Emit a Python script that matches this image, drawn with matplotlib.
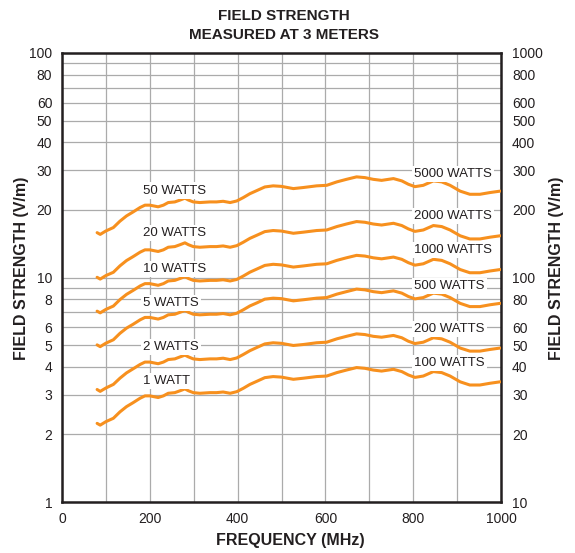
import matplotlib
matplotlib.use("Agg")
import matplotlib.pyplot as plt
from matplotlib.ticker import FixedLocator, FixedFormatter, NullFormatter

plt.rcParams['font.family'] = ['Liberation Sans', 'DejaVu Sans']

# frequency (MHz)
freq = [80, 87, 100, 117, 132, 147, 162, 178, 189, 200, 219, 231, 242, 257, 269,
        280, 288, 299, 314, 337, 352, 367, 383, 398, 413, 428, 444, 462, 481, 500,
        527, 550, 580, 603, 626, 648, 671, 690, 709, 728, 755, 774, 789, 804, 823,
        846, 865, 884, 907, 929, 952, 975, 998]

# field strength (V/m, left scale) of each curve
curve_1w = [2.24, 2.20, 2.28, 2.36, 2.52, 2.66, 2.77, 2.90, 2.97, 2.97, 2.92, 2.97, 3.05, 3.07, 3.13,
            3.19, 3.13, 3.07, 3.05, 3.07, 3.07, 3.09, 3.05, 3.10, 3.21, 3.34, 3.45, 3.58, 3.62, 3.60,
            3.52, 3.56, 3.62, 3.64, 3.77, 3.87, 3.97, 3.94, 3.87, 3.83, 3.90, 3.81, 3.68, 3.59, 3.64,
            3.81, 3.77, 3.64, 3.43, 3.32, 3.32, 3.38, 3.43]
curve_2w = [3.17, 3.11, 3.22, 3.34, 3.56, 3.76, 3.92, 4.10, 4.20, 4.20, 4.13, 4.20, 4.31, 4.34, 4.43,
            4.51, 4.43, 4.34, 4.31, 4.34, 4.34, 4.37, 4.31, 4.38, 4.54, 4.72, 4.88, 5.06, 5.12, 5.09,
            4.98, 5.03, 5.12, 5.15, 5.33, 5.47, 5.61, 5.57, 5.47, 5.42, 5.52, 5.39, 5.20, 5.08, 5.15,
            5.39, 5.33, 5.15, 4.85, 4.70, 4.70, 4.78, 4.85]
curve_5w = [5.01, 4.92, 5.10, 5.28, 5.64, 5.95, 6.19, 6.48, 6.64, 6.64, 6.53, 6.64, 6.82, 6.86, 7.00,
            7.13, 7.00, 6.86, 6.82, 6.86, 6.86, 6.91, 6.82, 6.93, 7.18, 7.47, 7.71, 8.01, 8.09, 8.05,
            7.87, 7.96, 8.09, 8.14, 8.43, 8.65, 8.88, 8.81, 8.65, 8.56, 8.72, 8.52, 8.23, 8.03, 8.14,
            8.52, 8.43, 8.14, 7.67, 7.42, 7.42, 7.56, 7.67]
curve_10w = [7.08, 6.96, 7.21, 7.46, 7.97, 8.41, 8.76, 9.17, 9.39, 9.39, 9.23, 9.39, 9.65, 9.71, 9.90,
             10.09, 9.90, 9.71, 9.65, 9.71, 9.71, 9.77, 9.65, 9.80, 10.15, 10.56, 10.91, 11.32, 11.45, 11.38,
             11.13, 11.26, 11.45, 11.51, 11.92, 12.24, 12.55, 12.46, 12.24, 12.11, 12.33, 12.05, 11.64, 11.35, 11.51,
             12.05, 11.92, 11.51, 10.85, 10.50, 10.50, 10.69, 10.85]
curve_20w = [10.02, 9.84, 10.20, 10.55, 11.27, 11.90, 12.39, 12.97, 13.28, 13.28, 13.06, 13.28, 13.64, 13.73, 14.00,
             14.27, 14.00, 13.73, 13.64, 13.73, 13.73, 13.82, 13.64, 13.86, 14.36, 14.94, 15.43, 16.01, 16.19, 16.10,
             15.74, 15.92, 16.19, 16.28, 16.86, 17.31, 17.75, 17.62, 17.31, 17.13, 17.44, 17.04, 16.46, 16.05, 16.28,
             17.04, 16.86, 16.28, 15.34, 14.85, 14.85, 15.12, 15.34]
curve_50w = [15.84, 15.56, 16.12, 16.69, 17.82, 18.81, 19.59, 20.51, 21.00, 21.00, 20.65, 21.00, 21.57, 21.71, 22.13,
             22.56, 22.13, 21.71, 21.57, 21.71, 21.71, 21.85, 21.57, 21.92, 22.70, 23.62, 24.40, 25.31, 25.60, 25.46,
             24.89, 25.17, 25.60, 25.74, 26.66, 27.37, 28.07, 27.86, 27.37, 27.08, 27.58, 26.94, 26.02, 25.39, 25.74,
             26.94, 26.66, 25.74, 24.25, 23.48, 23.48, 23.90, 24.25]
curves = [curve_1w, curve_2w, curve_5w, curve_10w, curve_20w, curve_50w]

left_labels = ['1 WATT', '2 WATTS', '5 WATTS', '10 WATTS', '20 WATTS', '50 WATTS']
right_labels = ['100 WATTS', '200 WATTS', '500 WATTS', '1000 WATTS', '2000 WATTS', '5000 WATTS']

x_ticks = [0, 200, 400, 600, 800, 1000]
left_ticks = [1, 2, 3, 4, 5, 6, 8, 10, 20, 30, 40, 50, 60, 80, 100]
right_ticks = [10, 20, 30, 40, 50, 60, 80, 100, 200, 300, 400, 500, 600, 800, 1000]

# label anchors (left-scale units)
left_label_y = [3.47, 4.89, 7.67, 10.9, 15.8, 24.4]
right_label_y = [4.17, 5.88, 9.19, 13.26, 18.8, 28.9]

orange = '#F7901E'
ink = '#231F20'

fig = plt.figure(figsize=(5.75, 5.53), dpi=100)
ax = fig.add_axes([62 / 575, 1 - 502 / 553, 439 / 575, 449 / 553])

for c in curves:
    ax.plot(freq, c, color=orange, lw=2.2, solid_capstyle='round', zorder=3)

ax.set_xlim(0, 1000)
ax.set_yscale('log')
ax.set_ylim(1, 100)

ax.xaxis.set_major_locator(FixedLocator(x_ticks))
ax.xaxis.set_minor_locator(FixedLocator(list(range(100, 1000, 100))))
ax.yaxis.set_major_locator(FixedLocator(left_ticks))
ax.yaxis.set_major_formatter(FixedFormatter([str(t) for t in left_ticks]))
ax.yaxis.set_minor_locator(FixedLocator([1, 2, 3, 4, 5, 6, 7, 8, 9, 10, 20, 30, 40, 50, 60, 70, 80, 90]))
ax.yaxis.set_minor_formatter(NullFormatter())
ax.grid(which='both', axis='both', color='#ABABAB', lw=0.9)
ax.set_axisbelow(True)
ax.tick_params(which='both', length=0, labelsize=10, labelcolor=ink)
ax.tick_params(axis='y', pad=7)
ax.tick_params(axis='x', pad=7)

for s in ax.spines.values():
    s.set_color(ink)
    s.set_linewidth(1.8)

ax2 = ax.twinx()
ax2.set_yscale('log')
ax2.set_ylim(10, 1000)
ax2.yaxis.set_major_locator(FixedLocator(right_ticks))
ax2.yaxis.set_major_formatter(FixedFormatter([str(t) for t in right_ticks]))
ax2.yaxis.set_minor_locator(FixedLocator([]))
ax2.tick_params(which='both', length=0, labelsize=10, labelcolor=ink, pad=8)
for s in ax2.spines.values():
    s.set_visible(False)

box = dict(facecolor='white', edgecolor='none', pad=1.5)
for lab, yv in zip(left_labels, left_label_y):
    ax.text(184, yv, lab, fontsize=9.5, color=ink, ha='left', va='center', bbox=box, zorder=4)
for lab, yv in zip(right_labels, right_label_y):
    ax.text(802, yv, lab, fontsize=9.5, color=ink, ha='left', va='center', bbox=box, zorder=4)

fig.text(284 / 575, 1 - 16 / 553, 'FIELD STRENGTH', ha='center', va='center',
         fontsize=11, fontweight='bold', color=ink)
fig.text(284 / 575, 1 - 35 / 553, 'MEASURED AT 3 METERS', ha='center', va='center',
         fontsize=11, fontweight='bold', color=ink)
fig.text(290 / 575, 1 - 540 / 553, 'FREQUENCY (MHz)', ha='center', va='center',
         fontsize=11.5, fontweight='bold', color=ink)
fig.text(22 / 575, 1 - 268 / 553, 'FIELD STRENGTH (V/m)', ha='center', va='center',
         rotation=90, fontsize=11.5, fontweight='bold', color=ink)
fig.text(556 / 575, 1 - 268 / 553, 'FIELD STRENGTH (V/m)', ha='center', va='center',
         rotation=90, fontsize=11.5, fontweight='bold', color=ink)

fig.savefig('out.png', dpi=100)
